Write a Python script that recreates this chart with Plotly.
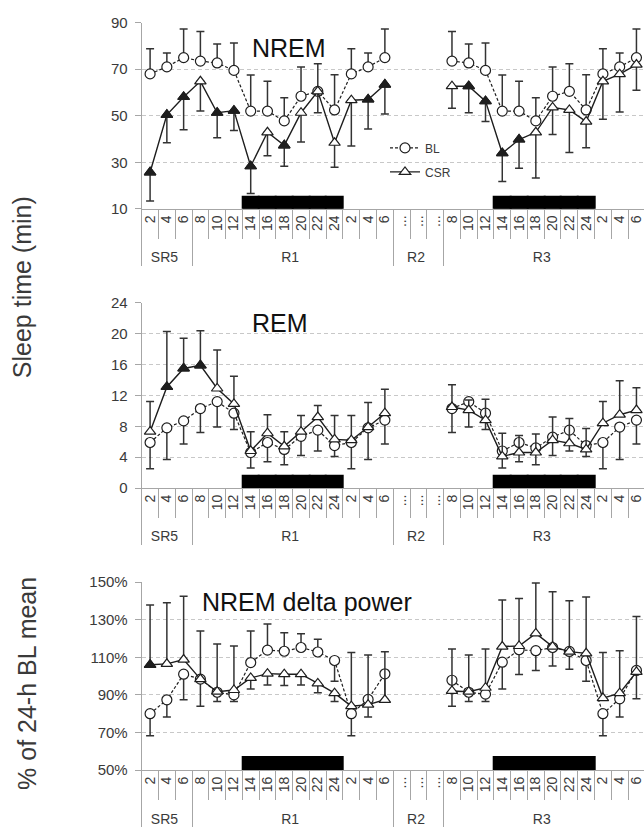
import plotly.graph_objects as go

# ---------------- categories ----------------
GROUPS = ["SR5"] * 3 + ["R1"] * 12 + ["R2"] * 3 + ["R3"] * 12
HOURS = ["2", "4", "6",
         "8", "10", "12", "14", "16", "18", "20", "22", "24", " 2", " 4", " 6",
         "...", " ...", "  ...",
         "8", "10", "12", "14", "16", "18", "20", "22", "24", " 2", " 4", " 6"]
DARK = [0, 0, 0,
        0, 0, 0, 1, 1, 1, 1, 1, 1, 0, 0, 0,
        0, 0, 0,
        0, 0, 0, 1, 1, 1, 1, 1, 1, 0, 0, 0]
N = None

# ---------------- NREM (min) ----------------
NREM_BL = [68, 71, 75,
           73.5, 72.7, 69.5, 52, 52, 47.8, 58.4, 60.5, 52.5, 68, 71, 75,
           N, N, N,
           73.5, 72.7, 69.5, 52, 52, 47.8, 58.4, 60.5, 52.5, 68, 71, 75]
NREM_BL_UP = [10.8, 6, 12.3,
              12.7, 8.2, 11.8, 15.5, 12.8, 9.9, 12.6, 11.9, 15.1, 10.8, 6, 12.3,
              0, 0, 0,
              12.7, 8.2, 11.8, 15.5, 12.8, 9.9, 12.6, 11.9, 15.1, 10.8, 6, 12.3]
NREM_BL_DN = [0] * 30
NREM_CSR = [25.7, 50.4, 58.1,
            64.8, 51.3, 52.2, 28.3, 42.9, 37.3, 51.3, 60.5, 38.4, 56.7, 57, 63.4,
            N, N, N,
            62.7, 62.7, 56.3, 33.9, 39.8, 42.9, 53.6, 52.5, 47.5, 64.8, 67.9, 72]
NREM_CSR_UP = [0] * 30
NREM_CSR_DN = [12.3, 12, 14.1,
               12.8, 10.8, 8.5, 11.7, 10.1, 9, 12.6, 9.2, 10.5, 19.7, 12.7, 12.6,
               0, 0, 0,
               9.5, 11.4, 8.8, 12.1, 12.4, 19.7, 11.7, 18.3, 11.2, 16.3, 16.3, 11]
NREM_SIG = [1, 1, 1,
            0, 1, 1, 1, 0, 1, 0, 0, 0, 0, 1, 1,
            0, 0, 0,
            0, 1, 1, 1, 1, 0, 0, 0, 0, 0, 0, 0]

# ---------------- REM (min) ----------------
REM_BL = [5.9, 7.8, 8.7,
          10.3, 11.2, 9.7, 4.6, 5.9, 5.0, 6.7, 7.5, 5.5, 5.9, 7.8, 8.8,
          N, N, N,
          10.3, 11.2, 9.7, 4.8, 5.9, 5.2, 6.6, 7.5, 5.5, 5.9, 7.9, 8.8]
REM_BL_UP = [0] * 30
REM_BL_DN = [3.4, 4.1, 3.0,
             3.1, 3.3, 2.1, 2.0, 2.5, 2.0, 2.5, 2.7, 1.4, 3.4, 4.1, 3.1,
             0, 0, 0,
             3.1, 3.3, 2.1, 2.2, 2.5, 2.2, 2.4, 2.7, 1.4, 3.4, 4.2, 3.1]
REM_CSR = [7.3, 13.1, 15.5,
           15.9, 12.9, 10.9, 4.8, 7.1, 5.4, 7.3, 9.2, 6.3, 6.2, 7.9, 9.7,
           N, N, N,
           10.5, 10.1, 8.8, 4.1, 4.6, 4.6, 6.2, 5.8, 5.0, 8.4, 9.5, 10.1]
REM_CSR_UP = [3.9, 7.2, 3.9,
              4.5, 5.0, 3.6, 2.5, 2.4, 1.9, 2.1, 1.5, 3.1, 3.2, 3.2, 3.1,
              0, 0, 0,
              2.9, 1.3, 2.7, 3.0, 2.2, 2.4, 3.0, 3.2, 2.7, 2.8, 4.4, 2.9]
REM_CSR_DN = [0] * 30
REM_SIG = [0, 1, 1,
           1, 0, 0, 0, 0, 0, 0, 0, 0, 0, 0, 0,
           0, 0, 0,
           0, 0, 0, 0, 0, 0, 0, 0, 0, 0, 0, 0]

# ---------------- NREM delta power (% of 24-h BL mean) ----------------
DELTA_BL = [80, 87.4, 101,
            98.4, 91.4, 90, 107.2, 113.8, 113.2, 115.2, 112.8, 108.3, 80, 87.6, 101.2,
            N, N, N,
            97.8, 91.4, 90.4, 107.4, 114, 113.5, 115.2, 113.1, 108.3, 80, 87.9, 103]
DELTA_BL_UP = [0, 0, 0,
               0, 0, 0, 16.8, 13.9, 9.8, 7.3, 6.8, 0, 0, 0, 0,
               0, 0, 0,
               0, 0, 0, 0, 0, 0, 0, 0, 0, 0, 0, 0]
DELTA_BL_DN = [11.7, 9.2, 13.6,
               14.5, 4.9, 3.5, 0, 0, 0, 0, 0, 11, 11.7, 9.4, 13.6,
               0, 0, 0,
               13.9, 4.9, 3.9, 14.3, 13.2, 10.5, 9.9, 9.5, 11, 11.7, 9.7, 15.1]
DELTA_CSR = [106, 106.5, 108.8,
             98.4, 91.7, 92.6, 99, 101.3, 101, 101, 96.1, 90.9, 84, 84.8, 87.4,
             N, N, N,
             92.1, 91.7, 93.8, 115.7, 116, 122.7, 115.7, 113, 112.1, 88.3, 90.9, 102.2]
DELTA_CSR_UP = [31.8, 32.5, 33.7,
                25.6, 25.3, 23.4, 0, 0, 0, 0, 0, 0, 28.6, 26.4, 25.6,
                0, 0, 0,
                22.3, 19.5, 20.6, 24.7, 25.3, 26.8, 29.1, 27, 29.9, 24.3, 22.6, 29.5]
DELTA_CSR_DN = [0, 0, 0,
                0, 0, 0, 5.9, 6, 6, 5.8, 5, 4.4, 0, 0, 0,
                0, 0, 0,
                0, 0, 0, 0, 0, 0, 0, 0, 0, 0, 0, 0]
DELTA_SIG = [1, 0, 0,
             0, 0, 0, 0, 0, 0, 0, 0, 0, 0, 0, 0,
             0, 0, 0,
             0, 0, 0, 0, 0, 0, 0, 0, 0, 0, 0, 0]

# ---------------- styling ----------------
W, H = 644, 832
FONT = "Liberation Sans, Arial, sans-serif"
AX_GREY = "#a6a6a6"
TXT = "#3a3a3a"
INK = "#1e1e1e"
X_LEFT = 141.7

PANELS = [
    dict(bl=NREM_BL, bl_up=NREM_BL_UP, bl_dn=NREM_BL_DN,
         csr=NREM_CSR, csr_up=NREM_CSR_UP, csr_dn=NREM_CSR_DN, sig=NREM_SIG,
         yrange=[10, 90], ticks=[10, 30, 50, 70, 90], suffix="", bar_h=5.0,
         top=14, bottom=204, title="NREM", tx=250, ty=40),
    dict(bl=REM_BL, bl_up=REM_BL_UP, bl_dn=REM_BL_DN,
         csr=REM_CSR, csr_up=REM_CSR_UP, csr_dn=REM_CSR_DN, sig=REM_SIG,
         yrange=[0, 24], ticks=[0, 4, 8, 12, 16, 20, 24], suffix="", bar_h=1.6,
         top=300, bottom=489, title="REM", tx=250, ty=321),
    dict(bl=DELTA_BL, bl_up=DELTA_BL_UP, bl_dn=DELTA_BL_DN,
         csr=DELTA_CSR, csr_up=DELTA_CSR_UP, csr_dn=DELTA_CSR_DN, sig=DELTA_SIG,
         yrange=[50, 150], ticks=[50, 70, 90, 110, 130, 150], suffix="%", bar_h=6.8,
         top=585, bottom=777, title="NREM delta power", tx=200, ty=605),
]

fig = go.Figure()
X = [GROUPS, HOURS]

for i, p in enumerate(PANELS):
    sfx = "" if i == 0 else str(i + 1)
    xa, ya = "x" + sfx, "y" + sfx
    ymin = p["yrange"][0]
    # black bar marking the dark period
    fig.add_trace(go.Bar(
        x=X, y=[p["bar_h"] if d else None for d in DARK], base=ymin, width=1,
        marker=dict(color="black", line=dict(color="black", width=2)),
        showlegend=False, hoverinfo="skip", xaxis=xa, yaxis=ya))
    # baseline
    fig.add_trace(go.Scatter(
        x=X, y=p["bl"], mode="lines+markers", name="BL",
        legendgroup="BL", showlegend=(i == 0), cliponaxis=False,
        line=dict(color=INK, width=1.2, dash="3px,2px"),
        marker=dict(symbol="circle", size=10, color="white",
                    line=dict(color=INK, width=1.2)),
        error_y=dict(type="data", symmetric=False, array=p["bl_up"],
                     arrayminus=p["bl_dn"], color="#333333", thickness=1.5, width=4),
        xaxis=xa, yaxis=ya))
    # chronic sleep restriction
    fig.add_trace(go.Scatter(
        x=X, y=p["csr"], mode="lines+markers", name="CSR",
        legendgroup="CSR", showlegend=(i == 0), cliponaxis=False,
        line=dict(color=INK, width=1.4),
        marker=dict(symbol="triangle-up", size=10, color="white",
                    line=dict(color=INK, width=1.2)),
        error_y=dict(type="data", symmetric=False, array=p["csr_up"],
                     arrayminus=p["csr_dn"], color="#333333", thickness=1.5, width=4),
        xaxis=xa, yaxis=ya))
    # significant CSR points drawn filled
    fig.add_trace(go.Scatter(
        x=X, y=[v if s else None for v, s in zip(p["csr"], p["sig"])],
        mode="markers", showlegend=False, hoverinfo="skip", cliponaxis=False,
        marker=dict(symbol="triangle-up", size=10, color=INK,
                    line=dict(color=INK, width=1.2)),
        xaxis=xa, yaxis=ya))

    dom = [1 - p["bottom"] / H, 1 - p["top"] / H]
    fig.layout["xaxis" + sfx] = dict(
        type="multicategory", domain=[X_LEFT / W, 1], anchor=ya,
        range=[-0.5, 29.45], autorange=False,
        showline=True, linecolor=AX_GREY, linewidth=1,
        ticks="outside", tickson="boundaries", ticklen=29, tickcolor=AX_GREY,
        tickwidth=1, tickangle=-90, nticks=100,
        tickfont=dict(family=FONT, size=14, color=TXT),
        showgrid=False, showdividers=True, dividercolor=AX_GREY, dividerwidth=1,
        fixedrange=True)
    fig.layout["yaxis" + sfx] = dict(
        domain=dom, anchor=xa, range=p["yrange"], autorange=False,
        tickmode="array", tickvals=p["ticks"],
        ticktext=[f"{v}{p['suffix']}" for v in p["ticks"]],
        showgrid=True, gridcolor="#c8c8c8", griddash="4px,3px", gridwidth=1,
        showline=True, linecolor=AX_GREY, linewidth=1,
        ticks="outside", ticklen=6, tickcolor=AX_GREY, ticklabelstandoff=4,
        tickfont=dict(family=FONT, size=15, color=TXT),
        zeroline=False, fixedrange=True)
    fig.add_annotation(text=p["title"], xref="paper", yref="paper",
                       x=p["tx"] / W, y=1 - p["ty"] / H, xanchor="left", yanchor="middle",
                       showarrow=False, font=dict(family=FONT, size=25, color="#111111"))

fig.add_annotation(text="Sleep time (min)", xref="paper", yref="paper",
                   x=22 / W, y=1 - 284 / H, xanchor="center", yanchor="middle",
                   textangle=-90, showarrow=False,
                   font=dict(family=FONT, size=25, color=TXT))
fig.add_annotation(text="% of 24-h BL mean", xref="paper", yref="paper",
                   x=27 / W, y=1 - 689 / H, xanchor="center", yanchor="middle",
                   textangle=-90, showarrow=False,
                   font=dict(family=FONT, size=25, color=TXT))

fig.update_layout(
    width=W, height=H, margin=dict(l=0, r=0, t=0, b=0),
    paper_bgcolor="white", plot_bgcolor="white",
    bargap=0, barmode="overlay",
    font=dict(family=FONT, color=TXT),
    showlegend=True,
    legend=dict(x=385 / W, y=1 - 127 / H, xanchor="left", yanchor="top",
                bgcolor="rgba(0,0,0,0)", borderwidth=0,
                font=dict(family=FONT, size=12, color=TXT),
                traceorder="grouped", tracegroupgap=5, itemwidth=30),
)

fig.write_html("out.html")
